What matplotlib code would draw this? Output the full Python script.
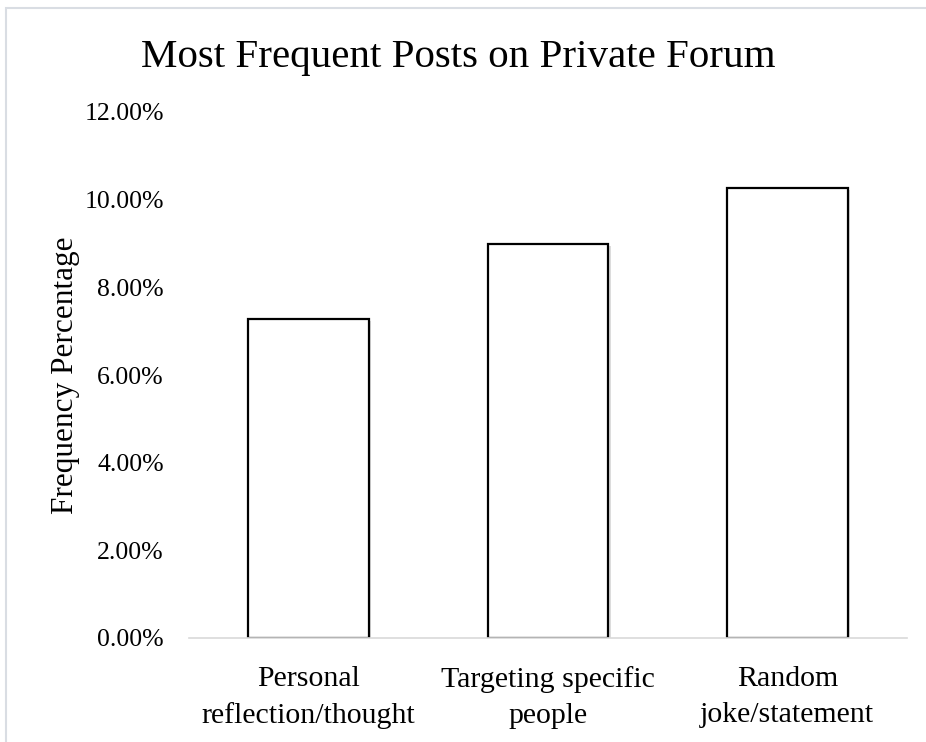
import matplotlib.pyplot as plt
import matplotlib.patheffects as pe
from matplotlib.patches import Rectangle
from matplotlib.ticker import PercentFormatter

# post categories and their share of posts
categories = ['Personal\nreflection/thought', 'Targeting specific\npeople', 'Random\njoke/statement']
values = [7.27, 8.98, 10.26]
yticks = [0, 2, 4, 6, 8, 10, 12]

plt.rcParams['font.family'] = ['Liberation Serif', 'DejaVu Serif']

fig = plt.figure(figsize=(9.26, 7.42), dpi=100)
ax = fig.add_axes([189 / 926, 1 - 638 / 742, 718 / 926, (638 - 112) / 742])

x = range(len(categories))
bars = ax.bar(x, values, width=0.505, color='white', edgecolor='black', linewidth=1.6)
for b in bars:
    b.set_path_effects([pe.SimplePatchShadow(offset=(1.5, -1.5), shadow_rgbFace='#bbbbbb', alpha=0.5),
                        pe.Normal()])

ax.set_xlim(-0.5, 2.5)
ax.set_ylim(0, 12)
ax.set_yticks(yticks)
ax.yaxis.set_major_formatter(PercentFormatter(decimals=2))
ax.set_xticks(list(x))
ax.set_xticklabels(categories, fontsize=21.5, linespacing=1.5)
ax.tick_params(axis='y', labelsize=18.5, length=0, pad=18)
ax.tick_params(axis='x', length=0, pad=20)

for s in ['top', 'right', 'left']:
    ax.spines[s].set_visible(False)
ax.spines['bottom'].set_color('#d9d9d9')
ax.spines['bottom'].set_linewidth(1.2)

ax.set_ylabel('Frequency Percentage', fontsize=22.5, labelpad=3)
fig.text(458 / 926, 1 - 57 / 742, 'Most Frequent Posts on Private Forum',
         fontsize=29.5, ha='center', va='center')

# chart-area border, cropped at right and bottom
fig.add_artist(Rectangle((6 / 926, -0.1), 1.2, 1.1 - 8 / 742, transform=fig.transFigure,
                         fill=False, edgecolor='#d9dde3', linewidth=1.5))

fig.savefig('out.png', dpi=100)
